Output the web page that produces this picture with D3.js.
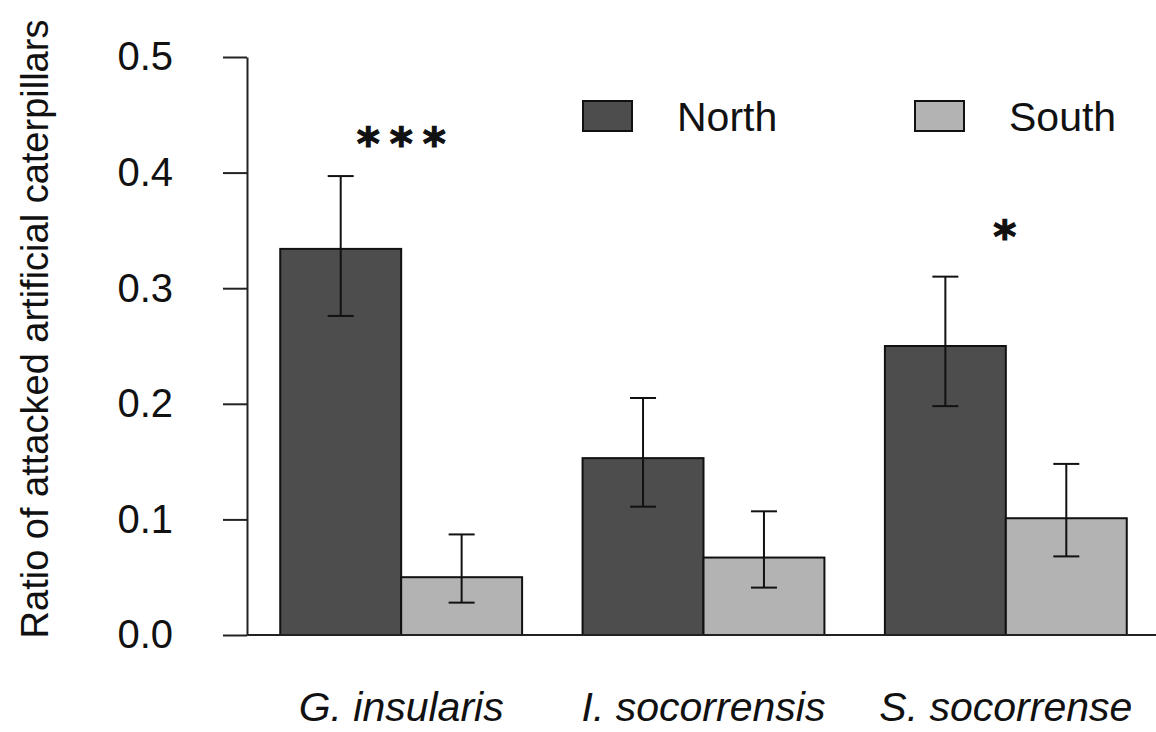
<!DOCTYPE html>
<html>
<head>
<meta charset="utf-8">
<script src="https://cdn.jsdelivr.net/npm/d3@7"></script>
<style>
  body { margin: 0; background: #fff; }
  svg { font-family: "Liberation Sans", Arial, sans-serif; }
</style>
</head>
<body>
<svg id="chart"></svg>
<script>
const species = ['G. insularis', 'I. socorrensis', 'S. socorrense'];
const groups = ['North', 'South'];
const north = [0.334, 0.153, 0.250];
const south = [0.050, 0.067, 0.101];
const northLow = [0.276, 0.111, 0.198];
const northHigh = [0.397, 0.205, 0.310];
const southLow = [0.028, 0.041, 0.068];
const southHigh = [0.087, 0.107, 0.148];
const stars = ['***', '', '*'];
const starLevel = [0.44, 0, 0.36];
const yTicks = [0, 0.1, 0.2, 0.3, 0.4, 0.5];

const width = 1156, height = 732;
const colors = {North: '#4d4d4d', South: '#b3b3b3'};

const svg = d3.select('#chart')
  .attr('width', width)
  .attr('height', height);

const x = d3.scaleBand()
  .domain(species)
  .range([250, 1157])
  .paddingInner(0.2)
  .paddingOuter(0.1);

const xs = d3.scaleBand()
  .domain(groups)
  .range([0, x.bandwidth()]);

const y = d3.scaleLinear()
  .domain([0, 0.5])
  .range([635, 57]);

// rows for bars
const rows = [];
species.forEach((s, i) => {
  rows.push({sp: s, g: 'North', v: north[i], lo: northLow[i], hi: northHigh[i]});
  rows.push({sp: s, g: 'South', v: south[i], lo: southLow[i], hi: southHigh[i]});
});

// y axis
const yAxis = svg.append('g')
  .attr('transform', 'translate(247,0)')
  .call(d3.axisLeft(y).tickValues(yTicks).tickFormat(d3.format('.1f'))
    .tickSize(24).tickSizeOuter(0).tickPadding(50));
yAxis.select('.domain').attr('stroke', '#222').attr('stroke-width', 2);
yAxis.selectAll('.tick line').attr('stroke', '#222').attr('stroke-width', 2);
yAxis.selectAll('.tick text')
  .attr('font-size', 40)
  .attr('fill', '#111')
  .attr('font-family', '"Liberation Sans", Arial, sans-serif');

// bars
svg.selectAll('.bar')
  .data(rows)
  .enter().append('rect')
  .attr('class', 'bar')
  .attr('x', d => x(d.sp) + xs(d.g))
  .attr('y', d => y(d.v))
  .attr('width', xs.bandwidth())
  .attr('height', d => y(0) - y(d.v))
  .attr('fill', d => colors[d.g])
  .attr('stroke', '#111')
  .attr('stroke-width', 2);

// baseline
svg.append('line')
  .attr('x1', 247).attr('x2', width)
  .attr('y1', y(0)).attr('y2', y(0))
  .attr('stroke', '#222').attr('stroke-width', 2);

// error bars
const cap = 13;
const cx = d => x(d.sp) + xs(d.g) + xs.bandwidth() / 2;
const err = svg.selectAll('.err')
  .data(rows)
  .enter().append('g')
  .attr('class', 'err')
  .attr('stroke', '#111')
  .attr('stroke-width', 2);
err.append('line')
  .attr('x1', cx).attr('x2', cx)
  .attr('y1', d => y(d.lo))
  .attr('y2', d => y(d.hi));
err.append('line')
  .attr('x1', d => cx(d) - cap).attr('x2', d => cx(d) + cap)
  .attr('y1', d => y(d.hi)).attr('y2', d => y(d.hi));
err.append('line')
  .attr('x1', d => cx(d) - cap).attr('x2', d => cx(d) + cap)
  .attr('y1', d => y(d.lo)).attr('y2', d => y(d.lo));

// significance stars
svg.selectAll('.star')
  .data(species)
  .enter().append('text')
  .attr('class', 'star')
  .attr('x', d => x(d) + x.bandwidth() / 2)
  .attr('y', (d, i) => y(starLevel[i]))
  .attr('dx', (d, i) => stars[i].length > 1 ? 5 : 4)
  .attr('text-anchor', 'middle')
  .attr('font-size', 44)
  .attr('font-weight', 'bold')
  .attr('letter-spacing', 10)
  .attr('font-family', '"DejaVu Sans", sans-serif')
  .attr('fill', '#111')
  .attr('stroke', '#111')
  .attr('stroke-width', 1.2)
  .attr('dominant-baseline', 'hanging')
  .text((d, i) => stars[i]);

// x labels
svg.selectAll('.xlab')
  .data(species)
  .enter().append('text')
  .attr('class', 'xlab')
  .attr('x', d => x(d) + x.bandwidth() / 2)
  .attr('y', 721)
  .attr('text-anchor', 'middle')
  .attr('font-size', 41)
  .attr('font-style', 'italic')
  .attr('fill', '#111')
  .text(d => d);

// y title
svg.append('text')
  .attr('transform', 'translate(48,329) rotate(-90)')
  .attr('text-anchor', 'middle')
  .attr('font-size', 38)
  .attr('fill', '#111')
  .text('Ratio of attacked artificial caterpillars');

// legend
const legendX = [583, 915];
const legend = svg.selectAll('.leg')
  .data(groups)
  .enter().append('g')
  .attr('class', 'leg')
  .attr('transform', (d, i) => `translate(${legendX[i]},101)`);
legend.append('rect')
  .attr('width', 49).attr('height', 30)
  .attr('fill', d => colors[d])
  .attr('stroke', '#111').attr('stroke-width', 2);
legend.append('text')
  .attr('x', 94).attr('y', 30)
  .attr('font-size', 41)
  .attr('fill', '#111')
  .text(d => d);
</script>
</body>
</html>
